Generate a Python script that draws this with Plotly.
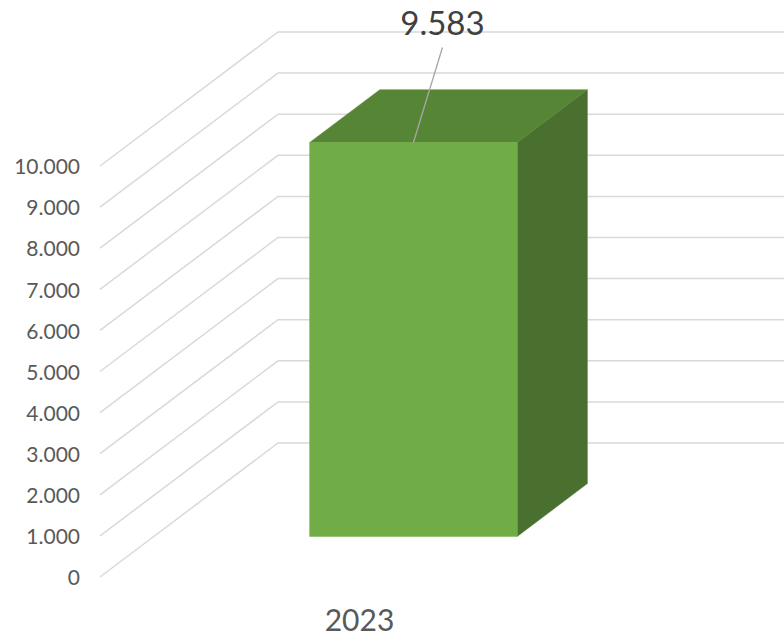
import plotly.graph_objects as go

# ---- data ----
categories = ["2023"]
values = [9583]
tick_values = [0, 1000, 2000, 3000, 4000, 5000, 6000, 7000, 8000, 9000, 10000]
tick_labels = ["0", "1.000", "2.000", "3.000", "4.000", "5.000", "6.000",
               "7.000", "8.000", "9.000", "10.000"]

# ---- styling / geometry of the oblique 3D projection ----
W, H = 784, 640
PX_PER_VAL = 0.0411          # vertical pixels per value unit
Y0_PX = 577                  # pixel row of value 0 at front
X0_PX = 100                  # pixel col of floor front-left
CAT_PX = 519                 # pixels per category width
DEPTH_DX = 178 / CAT_PX      # depth shift in category units
DEPTH_DY = 134 / PX_PER_VAL  # depth shift in value units
BAR_W = 0.4                  # bar width (fraction of category)
BAR_D0, BAR_D1 = 0.303, 0.697  # bar depth span (fraction of floor depth)

FRONT = "#70AD47"
TOP = "#578536"
SIDE = "#4A7030"
GRID = "#D9D9D9"

xr = [(-X0_PX) / CAT_PX, (W - X0_PX) / CAT_PX]
yr = [-(H - Y0_PX) / PX_PER_VAL, Y0_PX / PX_PER_VAL]


def proj(x, v, d):
    return x + d * DEPTH_DX, v + d * DEPTH_DY


fig = go.Figure()

# gridlines: front-left diagonal then along back wall
for tv in tick_values:
    pts = [proj(0, tv, 0), proj(0, tv, 1), proj(len(categories) + 0.2, tv, 1)]
    fig.add_trace(go.Scatter(x=[p[0] for p in pts], y=[p[1] for p in pts],
                             mode="lines", line=dict(color=GRID, width=1.5),
                             hoverinfo="skip", showlegend=False))

# tick labels at front-left edge
fig.add_trace(go.Scatter(x=[-20 / CAT_PX] * len(tick_values),
                         y=[tv - 3 / PX_PER_VAL for tv in tick_values],
                         mode="text", text=tick_labels, textposition="middle left",
                         textfont=dict(family="Lato", size=21, color="#595959"),
                         hoverinfo="skip", showlegend=False))


def poly(points, color):
    xs = [p[0] for p in points] + [points[0][0]]
    ys = [p[1] for p in points] + [points[0][1]]
    fig.add_trace(go.Scatter(x=xs, y=ys, mode="lines", fill="toself",
                             fillcolor=color, line=dict(color=color, width=0.5),
                             hoverinfo="skip", showlegend=False))


for i, (cat, val) in enumerate(zip(categories, values)):
    c = i + 0.5
    x0, x1 = c - BAR_W / 2, c + BAR_W / 2
    # right side
    poly([proj(x1, 0, BAR_D0), proj(x1, 0, BAR_D1), proj(x1, val, BAR_D1), proj(x1, val, BAR_D0)], SIDE)
    # top
    poly([proj(x0, val, BAR_D0), proj(x1, val, BAR_D0), proj(x1, val, BAR_D1), proj(x0, val, BAR_D1)], TOP)
    # front
    poly([proj(x0, 0, BAR_D0), proj(x1, 0, BAR_D0), proj(x1, val, BAR_D0), proj(x0, val, BAR_D0)], FRONT)

    # leader line + data label
    lx0, ly0 = proj(c, val, BAR_D0)
    lx1, ly1 = lx0 + 29 / CAT_PX, ly0 + 95 / PX_PER_VAL
    fig.add_trace(go.Scatter(x=[lx0, lx1], y=[ly0, ly1], mode="lines",
                             line=dict(color="#A6A6A6", width=1.3),
                             hoverinfo="skip", showlegend=False))
    label = f"{val:,}".replace(",", ".")
    fig.add_trace(go.Scatter(x=[lx1], y=[ly1 + 21 / PX_PER_VAL], mode="text",
                             text=[label], textposition="middle center",
                             textfont=dict(family="Lato", size=33, color="#404040"),
                             hoverinfo="skip", showlegend=False))

    # category label below floor front edge
    cx, cy = proj(c, 0, 0)
    fig.add_trace(go.Scatter(x=[cx], y=[cy - 46 / PX_PER_VAL], mode="text",
                             text=[cat], textposition="middle center",
                             textfont=dict(family="Lato", size=30, color="#595959"),
                             hoverinfo="skip", showlegend=False))

fig.update_layout(
    width=W, height=H,
    margin=dict(l=0, r=0, t=0, b=0),
    paper_bgcolor="white", plot_bgcolor="white",
    xaxis=dict(range=xr, visible=False, fixedrange=True),
    yaxis=dict(range=yr, visible=False, fixedrange=True),
    showlegend=False,
)

fig.write_html("out.html", config={"displayModeBar": False},
               post_script="document.body.style.margin='0';document.body.style.overflow='hidden';")
